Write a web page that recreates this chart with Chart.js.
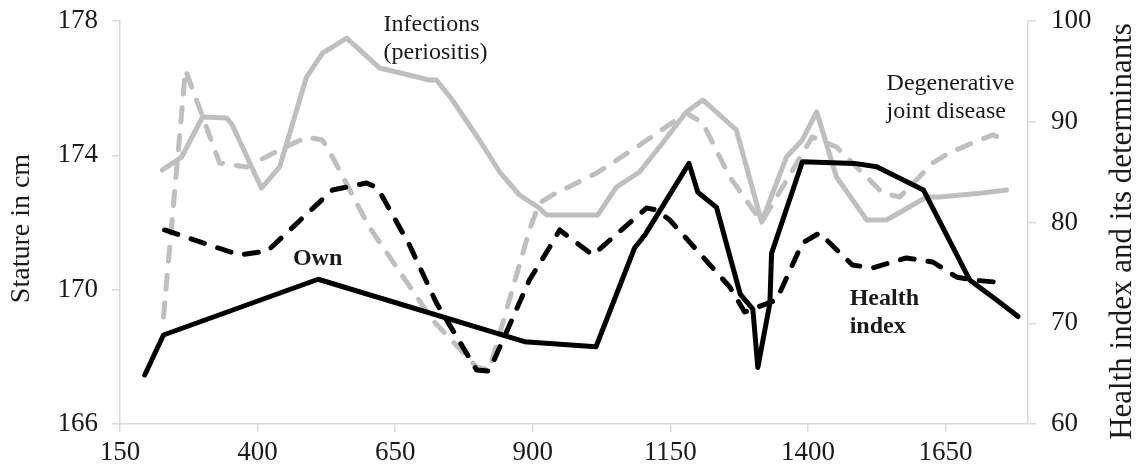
<!DOCTYPE html>
<html>
<head>
<meta charset="utf-8">
<script src="https://cdn.jsdelivr.net/npm/chart.js@4/dist/chart.umd.min.js"></script>
<style>
  html, body { margin: 0; padding: 0; background: #ffffff; }
  #wrap { width: 1137px; height: 474px; position: relative; }
</style>
</head>
<body>
<div id="wrap"><canvas id="c" width="1137" height="474"></canvas></div>
<script>
// ---- Data ----
// Stature (left axis, cm) - "Own"
const ownYears   = [195, 229, 510, 885, 1015, 1085, 1104, 1184, 1200, 1234, 1277, 1300, 1309, 1331, 1334, 1390, 1485, 1525, 1610, 1694, 1743, 1782];
const ownStature = [167.46, 168.65, 170.31, 168.45, 168.30, 171.24, 171.63, 173.76, 172.9, 172.45, 169.87, 169.42, 167.68, 169.6, 171.08, 173.81, 173.76, 173.66, 172.97, 170.29, 169.69, 169.2];

// Health index (right axis)
const healthYears = [231, 367, 418, 536, 598, 618, 676, 725, 798, 821, 894, 931, 949, 1009, 1107, 1125, 1149, 1198, 1258, 1285, 1343, 1390, 1421, 1481, 1517, 1579, 1627, 1670, 1699, 1761];
const healthIndex = [79.26, 76.77, 77.17, 83.23, 83.92, 83.42, 77.77, 72.01, 65.36, 65.26, 74.29, 77.57, 79.26, 76.77, 81.44, 81.24, 80.25, 77.27, 73.60, 71.12, 72.31, 77.97, 78.96, 75.78, 75.48, 76.48, 76.08, 74.59, 74.29, 73.99];

// Infections (periositis) (right axis)
const infYears = [227, 262, 300, 344, 354, 407, 440, 489, 518, 562, 622, 712, 725, 754, 803, 840, 876, 912, 925, 1018, 1052, 1094, 1136, 1179, 1209, 1270, 1316, 1361, 1390, 1416, 1452, 1507, 1543, 1616, 1639, 1717, 1761];
const infValues = [85.21, 86.50, 90.47, 90.37, 89.68, 83.42, 85.51, 94.44, 96.82, 98.31, 95.33, 94.14, 94.14, 92.16, 88.19, 85.01, 82.73, 81.44, 80.74, 80.74, 83.52, 85.01, 87.89, 90.97, 92.16, 89.18, 80.05, 86.50, 88.19, 90.97, 84.52, 80.25, 80.25, 82.53, 82.53, 82.93, 83.23];

// Degenerative joint disease (right axis)
const djdYears = [229, 269, 289, 331, 380, 440, 489, 518, 536, 603, 718, 798, 821, 894, 912, 936, 1016, 1089, 1179, 1209, 1258, 1316, 1354, 1408, 1452, 1536, 1567, 1627, 1657, 1699, 1736, 1761];
const djdValues = [70.62, 95.14, 92.16, 85.91, 85.51, 87.20, 88.49, 88.19, 86.50, 79.55, 70.32, 65.66, 65.36, 79.26, 81.94, 82.73, 84.91, 87.49, 90.87, 89.88, 84.52, 80.05, 83.52, 88.49, 87.49, 82.93, 82.53, 85.91, 86.90, 87.89, 88.69, 88.19];

// Axis ranges / ticks
const xTicks = [150, 400, 650, 900, 1150, 1400, 1650];
const statureTicks = [166, 170, 174, 178];
const healthTicks = [60, 70, 80, 90, 100];

const leftTitle = 'Stature in cm';
const rightTitle = 'Health index and its determinants';

// Inline labels: [text lines, x (year), y (value), axis, bold, align]
const inlineLabels = [
  { lines: ['Own'], x: 509, y: 170.72, axis: 'yL', bold: true, align: 'center' },
  { lines: ['Health', 'index'], x: 1476, y: 71.8, axis: 'yR', bold: true, align: 'left' },
  { lines: ['Infections', '(periositis)'], x: 629, y: 99.0, axis: 'yR', bold: false, align: 'left' },
  { lines: ['Degenerative', 'joint disease'], x: 1543, y: 93.15, axis: 'yR', bold: false, align: 'left' }
];

const toPts = (xs, ys) => xs.map((x, i) => ({ x: x, y: ys[i] }));

const FONT = "'Liberation Serif', 'Times New Roman', serif";
const BLACK = '#000000';
const GRAY = '#bfbfbf';
const AXIS = '#d9d9d9';
const TXT = '#1a1a1a';

const labelsPlugin = {
  id: 'labelsPlugin',
  afterDraw(chart) {
    const ctx = chart.ctx;
    const ca = chart.chartArea;
    ctx.save();
    ctx.fillStyle = TXT;
    ctx.textBaseline = 'alphabetic';
    inlineLabels.forEach(l => {
      const px = chart.scales.x.getPixelForValue(l.x);
      const py = chart.scales[l.axis].getPixelForValue(l.y);
      ctx.font = (l.bold ? 'bold ' : '') + '24px ' + FONT;
      ctx.textAlign = l.align;
      l.lines.forEach((t, i) => ctx.fillText(t, px, py + i * 27.5));
    });
    // axis titles (both read bottom-to-top)
    ctx.textAlign = 'center';
    ctx.textBaseline = 'middle';
    const midY = (ca.top + ca.bottom) / 2;
    ctx.save();
    ctx.font = '28px ' + FONT;
    ctx.translate(22, midY + 6);
    ctx.rotate(-Math.PI / 2);
    ctx.fillText(leftTitle, 0, 0);
    ctx.restore();
    ctx.save();
    ctx.font = '31px ' + FONT;
    ctx.translate(1123, midY + 9);
    ctx.rotate(-Math.PI / 2);
    ctx.fillText(rightTitle, 0, 0);
    ctx.restore();
    ctx.restore();
  }
};

const common = { fill: false, pointRadius: 0, pointHoverRadius: 0, tension: 0, borderJoinStyle: 'round' };
const plainNum = v => String(v);
const noPadV = w => s => { s.width = w; s.paddingTop = 0; s.paddingBottom = 0; };

new Chart(document.getElementById('c'), {
  type: 'line',
  data: {
    datasets: [
      Object.assign({ label: 'Own', data: toPts(ownYears, ownStature), yAxisID: 'yL', borderColor: BLACK, borderWidth: 5, borderCapStyle: 'round' }, common),
      Object.assign({ label: 'Health index', data: toPts(healthYears, healthIndex), yAxisID: 'yR', borderColor: BLACK, borderWidth: 5, borderDash: [14, 14], borderCapStyle: 'round' }, common),
      Object.assign({ label: 'Infections (periositis)', data: toPts(infYears, infValues), yAxisID: 'yR', borderColor: GRAY, borderWidth: 5, borderCapStyle: 'round' }, common),
      Object.assign({ label: 'Degenerative joint disease', data: toPts(djdYears, djdValues), yAxisID: 'yR', borderColor: GRAY, borderWidth: 5, borderDash: [14, 14], borderCapStyle: 'round' }, common)
    ]
  },
  options: {
    responsive: false,
    animation: false,
    events: [],
    layout: { padding: { top: 21, left: 0, right: 0, bottom: 0 } },
    plugins: { legend: { display: false }, tooltip: { enabled: false } },
    scales: {
      x: {
        type: 'linear',
        min: 150, max: 1800,
        afterBuildTicks: s => { s.ticks = xTicks.map(v => ({ value: v })); },
        afterFit: s => { s.height = 50; s.paddingLeft = 0; s.paddingRight = 0; },
        grid: { display: true, drawOnChartArea: false, drawTicks: true, tickLength: 8, color: AXIS, lineWidth: 1.5 },
        border: { display: true, color: AXIS, width: 1.5 },
        ticks: { color: TXT, font: { family: FONT, size: 27 }, padding: 5, maxRotation: 0, autoSkip: false, callback: plainNum }
      },
      yL: {
        type: 'linear', position: 'left',
        min: 166, max: 178,
        afterBuildTicks: s => { s.ticks = statureTicks.map(v => ({ value: v })); },
        afterFit: noPadV(120),
        grid: { display: true, drawOnChartArea: false, drawTicks: true, tickLength: 8, color: AXIS, lineWidth: 1.5 },
        border: { display: true, color: AXIS, width: 1.5 },
        ticks: { color: TXT, font: { family: FONT, size: 27 }, padding: 14, callback: plainNum }
      },
      yR: {
        type: 'linear', position: 'right',
        min: 60, max: 100,
        afterBuildTicks: s => { s.ticks = healthTicks.map(v => ({ value: v })); },
        afterFit: noPadV(109),
        grid: { display: true, drawOnChartArea: false, drawTicks: true, tickLength: 8, color: AXIS, lineWidth: 1.5 },
        border: { display: true, color: AXIS, width: 1.5 },
        ticks: { color: TXT, font: { family: FONT, size: 27 }, padding: 15, callback: plainNum }
      }
    }
  },
  plugins: [labelsPlugin]
});
</script>
</body>
</html>
